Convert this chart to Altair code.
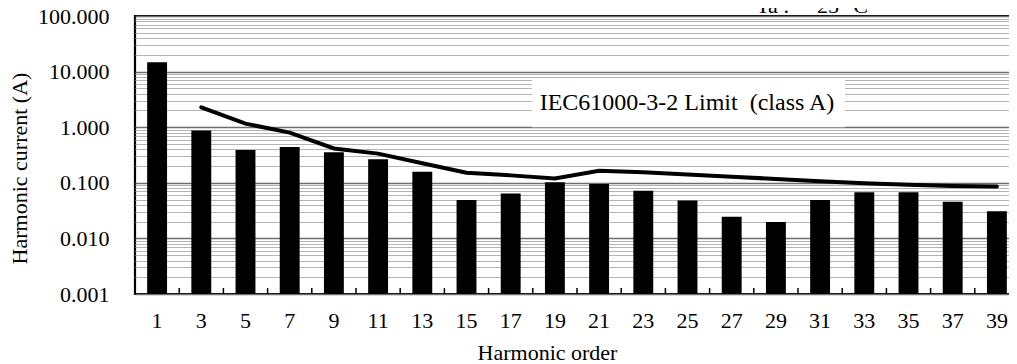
import altair as alt
import pandas as pd

# ---- data ----
orders = [1, 3, 5, 7, 9, 11, 13, 15, 17, 19, 21, 23, 25, 27, 29, 31, 33, 35, 37, 39]
current = [14.7, 0.87, 0.39, 0.44, 0.353, 0.265, 0.158, 0.049, 0.064, 0.102,
           0.095, 0.072, 0.048, 0.0245, 0.0197, 0.049, 0.0675, 0.0675, 0.0457, 0.0307]
limit = [None, 2.28, 1.16, 0.80, 0.415, 0.335, 0.225, 0.152, 0.136, 0.120,
         0.165, 0.155, 0.141, 0.129, 0.117, 0.1065, 0.098, 0.0925, 0.0876, 0.0855]

decades = [0.001, 0.01, 0.1, 1, 10, 100]
minor_mult = [2, 3, 4, 5, 6, 7, 8, 9]
y_values = sorted(decades + [round(d * m, 6) for d in decades[:-1] for m in minor_mult])

limit_label = "IEC61000-3-2 Limit\u00a0\u00a0(class A)"
temp_label = "Ta :\u00a0\u00a0\u00a0\u00a0\u00a025 \u00b0C"

df = pd.DataFrame({"order": orders, "current": current, "limit": limit})
df_lim = df.dropna(subset=["limit"])

FONT = "Liberation Serif"
W, H = 884, 278

dec_test = "indexof([0.001,0.01,0.1,1,10,100], datum.value) >= 0"

x_enc = alt.X("order:O", sort=orders,
              scale=alt.Scale(paddingInner=0, paddingOuter=0),
              axis=alt.Axis(title="Harmonic order", labelAngle=0, ticks=False,
                            domain=False, grid=False, labelFont=FONT,
                            labelFontSize=22, labelColor="black",
                            labelPadding=16, titleFont=FONT, titleFontSize=22,
                            titleFontWeight="normal", titleColor="black",
                            titleX=412, titleY=58, titleBaseline="middle",
                            titleAnchor="start", titleAlign="center"))

y_scale = alt.Scale(type="log", domain=[0.001, 100], nice=False)
y_axis = alt.Axis(title="Harmonic current (A)", values=y_values,
                  labelExpr=f"({dec_test}) ? format(datum.value, '.3f') : ''",
                  ticks=False, domain=False,
                  gridColor={"condition": {"test": dec_test, "value": "#6e6e6e"}, "value": "#b4b4b4"},
                  gridWidth={"condition": {"test": dec_test, "value": 1.6}, "value": 1.1},
                  labelFont=FONT, labelFontSize=22, labelColor="black",
                  labelPadding=26, labelBaseline="middle",
                  titleFont=FONT, titleFontSize=22, titleFontWeight="normal",
                  titleColor="black", titleX=-116, titleY=152,
                  titleBaseline="middle", titleAlign="center", titleAngle=-90)

bars = alt.Chart(df).mark_bar(color="black", width=alt.RelativeBandSize(0.45)).encode(
    x=x_enc,
    y=alt.Y("current:Q", scale=y_scale, axis=y_axis),
    y2=alt.Y2(datum=0.001),
)

line = alt.Chart(df_lim).mark_line(color="black", strokeWidth=4, strokeCap="round").encode(
    x=alt.X("order:O", sort=orders),
    y=alt.Y("limit:Q", scale=y_scale, axis=y_axis),
)

ticks = alt.Chart(df).mark_rule(color="black", strokeWidth=1.5).encode(
    x=alt.X("order:O", sort=orders, bandPosition=0),
    y=alt.value(H),
    y2=alt.value(H - 6),
)

box = alt.Chart(pd.DataFrame({"lab": [limit_label]})).mark_rect(color="white").encode(
    x=alt.value(397), x2=alt.value(710),
    y=alt.Y(datum=7.4, scale=y_scale, axis=y_axis), y2=alt.Y2(datum=1.0),
)

box_text = alt.Chart(pd.DataFrame({"lab": [limit_label]})).mark_text(
    font=FONT, fontSize=24, color="black", align="center", baseline="middle"
).encode(
    x=alt.value(552), y=alt.Y(datum=2.72, scale=y_scale, axis=y_axis), text="lab:N",
)

temp_text = alt.Chart(pd.DataFrame({"lab": [temp_label]})).mark_text(
    font=FONT, fontSize=22, color="black", align="center", baseline="alphabetic"
).encode(
    x=alt.value(677), y=alt.value(-3), text="lab:N",
)

chart = alt.layer(bars, line, ticks, box, box_text, temp_text).properties(
    width=W, height=H,
    padding={"left": 127, "top": 8, "right": -10, "bottom": 70},
    autosize=alt.AutoSizeParams(type="none"),
).configure_view(stroke="black", strokeWidth=2.2)

chart.save("out.html", embed_options={"renderer": "svg", "actions": False})
